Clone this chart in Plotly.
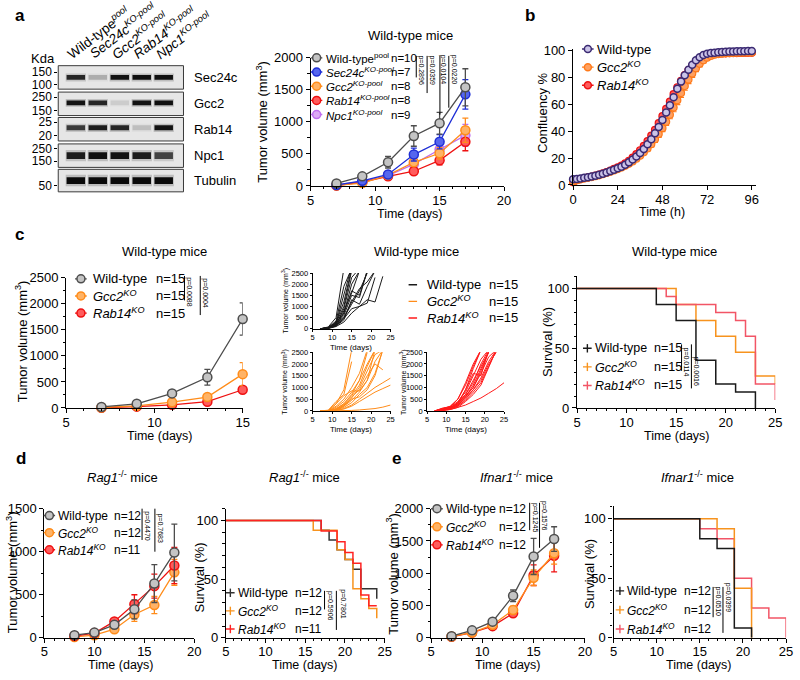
import plotly.graph_objects as go

W, H = 800, 680
FONT = "Arial, Liberation Sans, Helvetica, sans-serif"

# ---------------- panel a : western blot ----------------
LANE_LABELS = ["Wild-type<sup><i>pool</i></sup>",
               "<i>Sec24c<sup>KO-pool</sup></i>",
               "<i>Gcc2<sup>KO-pool</sup></i>",
               "<i>Rab14<sup>KO-pool</sup></i>",
               "<i>Npc1<sup>KO-pool</sup></i>"]
BLOT_PROTEINS = ["Sec24c", "Gcc2", "Rab14", "Npc1", "Tubulin"]
BAND_SEC24C = [0.85, 0.22, 0.95, 0.97, 0.97]
BAND_GCC2 = [0.95, 0.85, 0.10, 0.95, 0.97]
BAND_RAB14 = [0.75, 0.90, 0.85, 0.15, 0.95]
BAND_NPC1 = [0.90, 0.97, 0.97, 0.90, 0.70]
BAND_TUBULIN = [1.0, 1.0, 1.0, 1.0, 1.0]
MW_SEC24C = ["150", "100"]
MW_GCC2 = ["250", "150"]
MW_RAB14 = ["25", "20"]
MW_NPC1 = ["250", "150"]
MW_TUBULIN = ["50"]

# ---------------- panel a : tumour growth ----------------
DAYS_A = [7, 9, 11, 13, 15, 17]
A_NAMES = ["Wild-type<sup>pool</sup>", "<i>Sec24c<sup>KO-pool</sup></i>", "<i>Gcc2<sup>KO-pool</sup></i>",
           "<i>Rab14<sup>KO-pool</sup></i>", "<i>Npc1<sup>KO-pool</sup></i>"]
A_N = ["n=10", "n=7", "n=8", "n=8", "n=9"]
A_WT = [40, 150, 370, 780, 980, 1540]
A_WT_ERR = [15, 30, 90, 160, 170, 290]
A_SEC24C = [15, 80, 180, 490, 690, 1430]
A_SEC24C_ERR = [8, 20, 30, 100, 110, 230]
A_GCC2 = [10, 45, 170, 370, 510, 870]
A_GCC2_ERR = [6, 12, 30, 60, 90, 190]
A_RAB14 = [5, 60, 150, 230, 400, 690]
A_RAB14_ERR = [4, 15, 25, 50, 70, 140]
A_NPC1 = [15, 70, 160, 340, 570, 790]
A_NPC1_ERR = [8, 15, 30, 60, 100, 170]
A_PVALS = ["p=0.2896", "p=0.0359", "p=0.0104", "p=0.0220"]

# ---------------- panel b : confluency ----------------
B_TIME = [0, 2, 4, 6, 8, 10, 12, 14, 16, 18, 20, 22, 24, 26, 28, 30, 32, 34, 36, 38, 40, 42, 44, 46, 48,
          50, 52, 54, 56, 58, 60, 62, 64, 66, 68, 70, 72, 74, 76, 78, 80, 82, 84, 86, 88, 90, 92, 94, 96]
B_NAMES = ["Wild-type", "<i>Gcc2<sup>KO</sup></i>", "<i>Rab14<sup>KO</sup></i>"]
B_WT = [4.2, 4.5, 4.9, 5.3, 5.8, 6.3, 6.9, 7.6, 8.4, 9.3, 10.3, 11.3, 12.4, 13.6, 15.0, 16.8, 18.9, 21.2,
        23.8, 26.8, 30.2, 34.0, 38.4, 43.0, 48.2, 53.8, 59.3, 65.2, 71.5, 76.8, 81.6, 85.7, 89.4, 92.6,
        95.0, 96.6, 97.5, 98.0, 98.3, 98.6, 98.8, 99.0, 99.1, 99.2, 99.3, 99.4, 99.4, 99.5, 99.5]
B_GCC2 = [2.5, 3.5, 4.2, 4.8, 5.3, 5.9, 6.5, 7.2, 8.0, 8.9, 9.8, 10.8, 11.8, 12.9, 14.2, 15.7, 17.5, 19.5,
          21.8, 24.3, 27.2, 30.3, 33.9, 37.8, 42.2, 47.0, 52.2, 57.5, 62.9, 68.3, 73.5, 78.3, 82.8, 86.7,
          90.0, 92.6, 94.6, 95.9, 96.8, 97.3, 97.6, 97.8, 98.0, 98.1, 98.2, 98.3, 98.3, 98.4, 98.4]
B_GCC2_ERR = [0.4, 0.4, 0.4, 0.5, 0.5, 0.5, 0.5, 0.6, 0.6, 0.6, 0.7, 0.7, 0.8, 0.8, 0.9, 1.0, 1.1, 1.2,
              1.4, 1.6, 1.8, 2.0, 2.2, 2.4, 2.6, 2.8, 3.0, 3.1, 3.2, 3.2, 3.1, 3.0, 2.8, 2.5, 2.2, 1.9,
              1.6, 1.3, 1.1, 0.9, 0.8, 0.7, 0.6, 0.6, 0.5, 0.5, 0.5, 0.5, 0.5]
B_RAB14 = [2.0, 3.6, 4.3, 5.0, 5.6, 6.2, 6.9, 7.7, 8.6, 9.6, 10.7, 11.9, 13.1, 14.4, 16.0, 18.0, 20.3, 22.9,
           25.8, 29.0, 32.6, 36.6, 41.0, 45.9, 51.1, 56.5, 62.0, 67.5, 72.6, 77.4, 81.7, 85.4, 88.6, 91.3,
           93.4, 95.0, 96.1, 96.8, 97.2, 97.5, 97.7, 97.8, 97.9, 98.0, 98.0, 98.1, 98.1, 98.2, 98.2]
B_RAB14_ERR = [0.5, 0.5, 0.5, 0.5, 0.5, 0.6, 0.6, 0.6, 0.7, 0.7, 0.8, 0.8, 0.9, 1.0, 1.1, 1.2, 1.3, 1.4,
               1.5, 1.6, 1.7, 1.8, 1.9, 2.0, 2.0, 2.0, 2.0, 1.9, 1.8, 1.7, 1.5, 1.4, 1.2, 1.1, 1.0, 0.9,
               0.8, 0.7, 0.6, 0.6, 0.5, 0.5, 0.5, 0.5, 0.5, 0.5, 0.5, 0.5, 0.5]

# ---------------- panel c ----------------
KO_NAMES = ["Wild-type", "<i>Gcc2<sup>KO</sup></i>", "<i>Rab14<sup>KO</sup></i>"]
C_N = ["n=15", "n=15", "n=15"]
DAYS_C = [7, 9, 11, 13, 15]
C_WT = [20, 80, 280, 590, 1710]
C_WT_ERR = [10, 20, 60, 150, 310]
C_GCC2 = [10, 40, 110, 210, 650]
C_GCC2_ERR = [5, 10, 30, 50, 220]
C_RAB14 = [5, 25, 60, 120, 350]
C_RAB14_ERR = [3, 8, 15, 30, 40]
C_PVALS = ["p=0.0088", "p=0.0004"]

DAYS_IND = [7, 9, 11, 13, 15, 17, 19, 21, 23, 25]
C_WT_IND = [
    [0, 80, 500, 2700], [0, 50, 350, 1900, 2700], [0, 40, 250, 1500, 2800], [0, 60, 300, 1200, 2700],
    [0, 30, 200, 900, 2300, 2700], [0, 20, 150, 700, 2000, 2600], [0, 30, 220, 800, 1600, 2600],
    [0, 20, 180, 600, 1500, 1400, 2600], [0, 40, 160, 500, 1100, 1700, 2500],
    [0, 10, 120, 400, 1300, 1100, 1900, 2600], [0, 20, 150, 450, 900, 1000, 1150, 2300],
    [0, 50, 250, 700, 1700, 1500, 2600], [0, 10, 100, 300, 700, 1000, 1300, 1200, 2350],
    [0, 30, 280, 1000, 2600], [0, 20, 140, 500, 1200, 1800, 2100, 2600]]
C_GCC2_IND = [
    [0, 20, 300, 900, 2600], [0, 30, 400, 700, 2100], [0, 10, 200, 500, 1000, 1600, 2600],
    [0, 10, 150, 400, 800, 1300, 2500], [0, 10, 100, 300, 650, 1100, 1900, 2600],
    [0, 0, 60, 250, 600, 900, 1500, 2000, 1750], [0, 0, 50, 200, 450, 800, 1300, 2100, 2600],
    [0, 0, 40, 150, 350, 700, 1000, 1600, 2600], [0, 0, 30, 100, 250, 500, 750, 1000, 1200, 1400],
    [0, 0, 20, 80, 200, 400, 600, 800, 950, 1100], [0, 0, 0, 10, 20, 40, 60, 100, 160, 250],
    [0, 10, 300, 650, 850, 850, 1300, 2600], [0, 0, 80, 300, 700, 1300, 2000, 2600],
    [0, 0, 30, 200, 550, 1000, 1700, 2400, 2600], [0, 0, 50, 250, 500, 600, 900, 1500, 2600]]
C_RAB14_IND = [
    [0, 100, 150, 300, 900, 1800, 2600], [0, 80, 200, 500, 1100, 1900, 2600],
    [0, 120, 180, 400, 800, 1500, 2200, 2600], [0, 60, 150, 300, 700, 1200, 2000, 2600],
    [0, 50, 100, 250, 600, 1000, 1700, 2500], [0, 40, 120, 350, 900, 1600, 1500, 2600],
    [0, 30, 80, 200, 500, 900, 1400, 2100, 2600], [0, 20, 100, 250, 600, 1100, 1800, 2500],
    [0, 10, 60, 150, 400, 700, 1100, 1800, 2600], [0, 50, 150, 350, 700, 1300, 1900, 2500],
    [0, 30, 90, 200, 450, 800, 1200, 1900, 2600], [0, 20, 60, 150, 250, 400, 550, 750, 950, 1200],
    [0, 80, 180, 500, 1200, 2000, 2600], [0, 40, 120, 300, 650, 1000, 1600, 2300, 2600],
    [0, 20, 100, 250, 550, 900, 1300, 2000, 2500]]

C_SURV_WT_T = [0, 13, 15, 17, 19, 21, 23]
C_SURV_WT = [100, 86.7, 73.3, 40, 20, 13.3, 0]
C_SURV_GCC2_T = [0, 15, 17, 19, 21, 23, 25]
C_SURV_GCC2 = [100, 86.7, 73.3, 60, 46.7, 26.7, 20]
C_SURV_RAB14_T = [0, 14, 15, 19, 21, 22, 23, 25]
C_SURV_RAB14 = [100, 93.3, 86.7, 80, 73.3, 60, 20, 6.7]
C_SURV_PVALS = ["p=0.0114", "p=0.0016"]

# ---------------- panel d ----------------
D_N = ["n=12", "n=12", "n=11"]
DAYS_D = [8, 10, 12, 14, 16, 18]
D_WT = [30, 60, 150, 330, 630, 990]
D_WT_ERR = [10, 10, 40, 110, 220, 330]
D_GCC2 = [10, 30, 100, 270, 380, 760]
D_GCC2_ERR = [5, 10, 25, 80, 100, 150]
D_RAB14 = [20, 55, 190, 390, 600, 840]
D_RAB14_ERR = [8, 10, 25, 110, 140, 210]
D_PVALS = ["p=0.4470", "p=0.7683"]
D_SURV_WT_T = [0, 17, 18, 19, 20, 21, 22, 24]
D_SURV_WT = [100, 91.7, 83.3, 75, 66.7, 58.3, 41.7, 33.3]
D_SURV_GCC2_T = [0, 16, 19, 20, 21, 22, 23, 24]
D_SURV_GCC2 = [100, 91.7, 75, 66.7, 41.7, 33.3, 25, 16.7]
D_SURV_RAB14_T = [0, 17, 19, 20, 21, 22, 23, 24]
D_SURV_RAB14 = [100, 90.9, 81.8, 72.7, 63.6, 36.4, 27.3, 27.3]
D_SURV_PVALS = ["p=0.5906", "p=0.7801"]

# ---------------- panel e ----------------
E_N = ["n=12", "n=12", "n=12"]
DAYS_E = [7, 9, 11, 13, 15, 17]
E_WT = [25, 115, 250, 650, 1260, 1530]
E_WT_ERR = [10, 20, 30, 90, 280, 190]
E_GCC2 = [20, 80, 200, 430, 930, 1310]
E_GCC2_ERR = [8, 15, 25, 60, 120, 170]
E_RAB14 = [15, 80, 180, 380, 970, 1270]
E_RAB14_ERR = [6, 15, 25, 50, 160, 250]
E_PVALS = ["p=0.1245", "p=0.1576"]
E_SURV_WT_T = [0, 15, 17, 19, 21]
E_SURV_WT = [100, 83.3, 75, 8.3, 0]
E_SURV_GCC2_T = [0, 17, 19, 21]
E_SURV_GCC2 = [100, 91.7, 41.7, 0]
E_SURV_RAB14_T = [0, 15, 17, 19, 21, 23, 25]
E_SURV_RAB14 = [100, 91.7, 83.3, 50, 25, 16.7, 0]
E_SURV_PVALS = ["p=0.0510", "p=0.0399"]

# ---------------- styles ----------------
GRAY, GRAY_F = "#4d4d4d", "#c4c4c4"
BLUE, BLUE_F = "#1f2fd6", "#5566ee"
ORANGE, ORANGE_F = "#ff8c1a", "#ffb366"
RED, RED_F = "#ee1111", "#ff5c5c"
VIOLET, VIOLET_F = "#bf6fee", "#dcaaf5"
PURPLE, PURPLE_F = "#3b2a72", "#cbc4e8"
KBLACK = "#1a1a1a"
PINK = "#f25566"

fig = go.Figure()
layout = {}
shapes = []
annotations = []
_ax = [0]

HIDDEN = dict(visible=False, showgrid=False, zeroline=False, fixedrange=True)


def new_axes(xpx, ypx, xr, yr, xkw=None, ykw=None):
    _ax[0] += 1
    i = _ax[0]
    s = "" if i == 1 else str(i)
    xa = dict(HIDDEN)
    xa.update(domain=[xpx[0] / W, xpx[1] / W], range=xr, anchor="y" + s)
    ya = dict(HIDDEN)
    ya.update(domain=[1 - ypx[1] / H, 1 - ypx[0] / H], range=yr, anchor="x" + s)
    if xkw:
        xa.update(xkw)
    if ykw:
        ya.update(ykw)
    layout["xaxis" + s] = xa
    layout["yaxis" + s] = ya
    return "x" + s, "y" + s


def chart_axes(xpx, ypx, xr, yr, xdt, ydt, xminor=None, yminor=None, fs=13, tl=4, lw=1.2, xstand=-2):
    common = dict(visible=True, showline=True, linecolor="black", linewidth=lw, ticks="outside",
                  ticklen=tl, tickwidth=lw, tickcolor="black",
                  tickfont=dict(size=fs, color="black", family=FONT),
                  showgrid=False, zeroline=False, fixedrange=True, tickmode="linear", tick0=0)
    xkw = dict(common, dtick=xdt, ticklabelstandoff=xstand)
    ykw = dict(common, dtick=ydt)
    if xminor:
        xkw["minor"] = dict(ticks="outside", ticklen=tl * 0.6, tickwidth=1, tickcolor="black",
                            dtick=xminor, tick0=0, showgrid=False)
    if yminor:
        ykw["minor"] = dict(ticks="outside", ticklen=tl * 0.6, tickwidth=1, tickcolor="black",
                            dtick=yminor, tick0=0, showgrid=False)
    return new_axes(xpx, ypx, xr, yr, xkw, ykw)


def text(t, x, y, size=13, xanchor="center", yanchor="middle", angle=0, xref="paper", yref="paper",
         xshift=0, yshift=0):
    if xref == "paper":
        x = x / W
    if yref == "paper":
        y = 1 - y / H
    annotations.append(dict(text=t, x=x, y=y, xref=xref, yref=yref, showarrow=False, xanchor=xanchor,
                            yanchor=yanchor, textangle=angle, xshift=xshift, yshift=yshift,
                            font=dict(size=size, color="black", family=FONT)))


def vline(x, y0, y1, w=1):
    shapes.append(dict(type="line", xref="paper", yref="paper", x0=x / W, x1=x / W,
                       y0=1 - y0 / H, y1=1 - y1 / H, line=dict(color="black", width=w)))


def brackets(pvals, geo):
    for p, (lx, y0, y1, tx, ty) in zip(pvals, geo):
        vline(lx, y0, y1)
        text(p, tx, ty, size=7, angle=90)


def legend(sym_px, rows_px, kind, names, colors, fills=None, n_labels=None, n_x=None, gap=2, msize=8,
           size=13):
    nrow = len(names)
    sp = (rows_px[1] - rows_px[0]) / (nrow - 1)
    xa, ya = new_axes(sym_px, (rows_px[0] - sp / 2, rows_px[1] + sp / 2), [0, 1], [nrow - 0.5, -0.5])
    for i, (nm, c) in enumerate(zip(names, colors)):
        fig.add_trace(go.Scatter(x=[0, 1], y=[i, i], mode="lines", line=dict(color=c, width=1.4),
                                 xaxis=xa, yaxis=ya, cliponaxis=False))
        if kind == "lm":
            fig.add_trace(go.Scatter(x=[0.5], y=[i], mode="markers", cliponaxis=False,
                                     marker=dict(size=msize, color=fills[i], line=dict(color=c, width=1.5)),
                                     xaxis=xa, yaxis=ya))
        elif kind == "km":
            fig.add_trace(go.Scatter(x=[0.5], y=[i], mode="markers", cliponaxis=False,
                                     marker=dict(symbol="line-ns", size=6, line=dict(color=c, width=1.4)),
                                     xaxis=xa, yaxis=ya))
        text(nm, 1, i, xref=xa, yref=ya, xanchor="left", xshift=gap, size=size)
        if n_labels:
            text(n_labels[i], n_x, i, yref=ya, xanchor="left", size=size)


def growth(xa, ya, days, vals, errs, edge, fill, msize=9):
    fig.add_trace(go.Scatter(x=days, y=vals, mode="lines+markers", cliponaxis=False,
                             line=dict(color=edge, width=1.3),
                             marker=dict(size=msize, color=fill, line=dict(color=edge, width=1.5)),
                             error_y=dict(type="data", array=errs, visible=True, color=edge,
                                          thickness=1.3, width=3),
                             xaxis=xa, yaxis=ya))


def survival(xa, ya, t, s, color):
    fig.add_trace(go.Scatter(x=t, y=s, mode="lines", line=dict(shape="hv", color=color, width=1.5),
                             xaxis=xa, yaxis=ya))


# ======================= panel a : blot =======================
STRIPS = [(60, 84), (87, 111), (113, 137), (140, 164), (166, 189)]
MW_POS = [[0.73, 0.2], [0.78, 0.22], [0.8, 0.24], [0.8, 0.26], [0.28]]
BAND_CENTER = [0.5, 0.54, 0.56, 0.5, 0.5]
BAND_THICK = [0.2, 0.2, 0.21, 0.28, 0.3]
bands = [BAND_SEC24C, BAND_GCC2, BAND_RAB14, BAND_NPC1, BAND_TUBULIN]
mws = [MW_SEC24C, MW_GCC2, MW_RAB14, MW_NPC1, MW_TUBULIN]
lane_idx = list(range(len(LANE_LABELS)))
first_blot_x = None
for k, ((top, bot), inten, mw) in enumerate(zip(STRIPS, bands, mws)):
    ykw = dict(visible=True, showline=False, ticks="outside", ticklen=3, tickwidth=1, tickcolor="black",
               tickmode="array", tickvals=MW_POS[k], ticktext=mw, showticklabels=True,
               tickfont=dict(size=12, color="black", family=FONT))
    xa, ya = new_axes((55, 182), (top, bot), [-0.8, 4.9], [0, 1], None, ykw)
    if first_blot_x is None:
        first_blot_x = xa
    shapes.append(dict(type="rect", xref=xa + " domain", yref=ya + " domain", x0=0, x1=1, y0=0, y1=1,
                       fillcolor="#e6e6e6", line=dict(color="#3a3a3a", width=1), layer="below"))
    th, cy = BAND_THICK[k], BAND_CENTER[k]
    fig.add_trace(go.Bar(x=lane_idx, y=[th * 1.7] * 5, base=[cy - th * 0.85] * 5, width=0.92,
                         marker=dict(color=[f"rgba(40,40,40,{0.22 * a:.2f})" for a in inten],
                                     line=dict(width=0)), xaxis=xa, yaxis=ya))
    fig.add_trace(go.Bar(x=lane_idx, y=[th] * 5, base=[cy - th / 2] * 5, width=0.84,
                         marker=dict(color=[f"rgba(10,10,10,{a:.2f})" for a in inten],
                                     line=dict(width=0)), xaxis=xa, yaxis=ya))
    text(BLOT_PROTEINS[k], 191, (top + bot) / 2, xanchor="left")

for j, lab in enumerate(LANE_LABELS):
    text(lab, j, 59, xref=first_blot_x, xanchor="left", yanchor="bottom", angle=-37, xshift=-15,
         size=13.5)
text("Kda", 54, 53, xanchor="right")
text("<b>a</b>", 16, 9, size=17)

# ======================= panel a : growth =======================
xa, ya = chart_axes((311, 507), (52, 183), [5, 20], [0, 2000], 5, 500, xminor=1, yminor=250)
for vals, errs, c, f in [(A_NPC1, A_NPC1_ERR, VIOLET, VIOLET_F), (A_RAB14, A_RAB14_ERR, RED, RED_F),
                         (A_GCC2, A_GCC2_ERR, ORANGE, ORANGE_F), (A_SEC24C, A_SEC24C_ERR, BLUE, BLUE_F),
                         (A_WT, A_WT_ERR, GRAY, GRAY_F)]:
    growth(xa, ya, DAYS_A, vals, errs, c, f)
legend((311, 323), (52, 110), "lm", A_NAMES, [GRAY, BLUE, ORANGE, RED, VIOLET],
       [GRAY_F, BLUE_F, ORANGE_F, RED_F, VIOLET_F], A_N, 390, gap=1, size=11.5)
brackets(A_PVALS, [(418, 50, 72, 423, 64), (429, 50, 88, 434, 64), (442, 50, 110, 446, 64),
                   (451, 50, 103, 457, 64)])
text("Wild-type mice", 412, 29)
text("Tumor volume (mm<sup>3</sup>)", 262, 117, angle=-90)
text("Time (days)", 412, 212, size=12.5)

# ======================= panel b =======================
xa, ya = chart_axes((577, 762), (43, 182), [0, 98], [0, 101], 24, 20)
fig.add_trace(go.Scatter(x=B_TIME, y=B_RAB14, mode="markers", cliponaxis=False,
                         marker=dict(size=7, color=RED_F, line=dict(color=RED, width=1.2)),
                         error_y=dict(type="data", array=B_RAB14_ERR, color=RED, thickness=1, width=2),
                         xaxis=xa, yaxis=ya))
fig.add_trace(go.Scatter(x=B_TIME, y=B_GCC2, mode="markers", cliponaxis=False,
                         marker=dict(size=7, color="#ffa060", line=dict(color="#ff7a1a", width=1.2)),
                         error_y=dict(type="data", array=B_GCC2_ERR, color="#ff7a1a", thickness=1.2, width=3),
                         xaxis=xa, yaxis=ya))
fig.add_trace(go.Scatter(x=B_TIME, y=B_WT, mode="markers", cliponaxis=False,
                         marker=dict(size=7, color=PURPLE_F, line=dict(color=PURPLE, width=1.5)),
                         xaxis=xa, yaxis=ya))
legend((586, 598), (43, 80), "lm", B_NAMES, [PURPLE, "#ff7a1a", RED], [PURPLE_F, "#ffa060", RED_F],
       gap=1, msize=7)
text("<b>b</b>", 533, 9, size=17)
text("Confluency %", 546, 108, angle=-90)
text("Time (h)", 667, 210, size=12.5)

# ======================= panel c left =======================
xa, ya = chart_axes((63, 242), (277, 410), [5, 15], [0, 2500], 5, 500, xminor=1, yminor=250)
growth(xa, ya, DAYS_C, C_RAB14, C_RAB14_ERR, RED, RED_F)
growth(xa, ya, DAYS_C, C_GCC2, C_GCC2_ERR, ORANGE, ORANGE_F)
growth(xa, ya, DAYS_C, C_WT, C_WT_ERR, GRAY, GRAY_F)
legend((72, 84), (278, 313), "lm", KO_NAMES, [GRAY, ORANGE, RED], [GRAY_F, ORANGE_F, RED_F], C_N, 152, gap=4)
brackets(C_PVALS, [(183, 275, 300, 188, 291), (199, 275, 315, 204, 292)])
text("<b>c</b>", 16, 233, size=17)
text("Wild-type mice", 163, 250)
text("Tumor volume (mm<sup>3</sup>)", 18, 342, angle=-90)
text("Time (days)", 158, 439, size=12.5)

# ======================= panel c middle (individual mice) =======================
small = [((313, 392), (272, 329), C_WT_IND, KBLACK, (285, 300), (352, 348)),
         ((313, 392), (353, 413), C_GCC2_IND, ORANGE, (285, 383), (352, 432)),
         ((429, 507), (353, 413), C_RAB14_IND, "#ff1a1a", (405, 383), (468, 432))]
for xpx, ypx, mice, col, ytp, xtp in small:
    xa, ya = chart_axes(xpx, ypx, [5, 25], [0, 2500], 5, 500, fs=7.5, tl=2, lw=1, xstand=-1)
    for m in mice:
        fig.add_trace(go.Scatter(x=DAYS_IND[:len(m)], y=m, mode="lines", line=dict(color=col, width=1),
                                 xaxis=xa, yaxis=ya))
    text("Tumor volume (mm<sup>3</sup>)", ytp[0], ytp[1], size=7, angle=-90)
    text("Time (days)", xtp[0], xtp[1], size=8)
legend((410, 419), (284, 318), "line", KO_NAMES, [KBLACK, ORANGE, "#ff1a1a"], n_labels=C_N, n_x=490, gap=8)
text("Wild-type mice", 418, 250)

# ======================= panel c right (survival) =======================
xa, ya = chart_axes((581, 782), (275, 410), [5, 25], [0, 110.6], 5, 50, xminor=1, yminor=10)
survival(xa, ya, C_SURV_GCC2_T, C_SURV_GCC2, "#f7931e")
survival(xa, ya, C_SURV_RAB14_T, C_SURV_RAB14, PINK)
survival(xa, ya, C_SURV_WT_T, C_SURV_WT, KBLACK)
legend((587, 596), (349, 387), "km", KO_NAMES, [KBLACK, "#f7931e", PINK], n_labels=C_N, n_x=657, gap=1,
       size=12.5)
brackets(C_SURV_PVALS, [(687, 345, 372, 692, 363), (697, 345, 390, 702, 372)])
text("Wild-type mice", 680, 250)
text("Survival (%)", 551, 342, angle=-90)
text("Time (days)", 682, 439, size=12.5)

# ======================= panel d =======================
RAG = "<i>Rag1</i><sup>-/-</sup> mice"
xa, ya = chart_axes((41, 193), (513, 645), [5, 20], [0, 1500], 5, 500, xminor=1, yminor=250)
growth(xa, ya, DAYS_D, D_GCC2, D_GCC2_ERR, ORANGE, ORANGE_F)
growth(xa, ya, DAYS_D, D_RAB14, D_RAB14_ERR, RED, RED_F)
growth(xa, ya, DAYS_D, D_WT, D_WT_ERR, GRAY, GRAY_F)
legend((40, 52), (520, 555), "lm", KO_NAMES, [GRAY, ORANGE, RED], [GRAY_F, ORANGE_F, RED_F], D_N, 109,
       gap=1, size=12)
brackets(D_PVALS, [(140, 513, 545, 145, 530), (153, 513, 557, 158, 533)])
text("<b>d</b>", 17, 462, size=17)
text(RAG, 120, 481)
text("Tumor volume (mm<sup>3</sup>)", 8, 578, angle=-90)
text("Time (days)", 119, 673, size=12.5)

xa, ya = chart_axes((225, 386), (513, 645), [5, 25], [0, 110], 5, 50, xminor=1, yminor=10)
survival(xa, ya, D_SURV_WT_T, D_SURV_WT, "#333333")
survival(xa, ya, D_SURV_GCC2_T, D_SURV_GCC2, "#f7931e")
survival(xa, ya, D_SURV_RAB14_T, D_SURV_RAB14, "#ff2222")
legend((225, 234), (599, 636), "km", KO_NAMES, ["#333333", "#f7931e", "#ff2222"], n_labels=D_N, n_x=293,
       gap=1, size=12)
brackets(D_SURV_PVALS, [(325, 597, 616, 331, 612), (337, 597, 637, 344, 610)])
text(RAG, 305, 481)
text("Survival (%)", 198, 583, angle=-90)
text("Time (days)", 305, 673, size=12.5)

# ======================= panel e =======================
IFN = "<i>Ifnar1</i><sup>-/-</sup> mice"
xa, ya = chart_axes((433, 589), (513, 645), [5, 20], [0, 2000], 5, 500, xminor=1, yminor=250)
growth(xa, ya, DAYS_E, E_RAB14, E_RAB14_ERR, RED, RED_F)
growth(xa, ya, DAYS_E, E_GCC2, E_GCC2_ERR, ORANGE, ORANGE_F)
growth(xa, ya, DAYS_E, E_WT, E_WT_ERR, GRAY, GRAY_F)
legend((433, 445), (513, 550), "lm", KO_NAMES, [GRAY, ORANGE, RED], [GRAY_F, ORANGE_F, RED_F], E_N, 500,
       gap=1, size=12)
brackets(E_PVALS, [(533, 507, 535, 538, 522), (543, 507, 553, 548, 520)])
text("<b>e</b>", 398, 462, size=17)
text(IFN, 520, 481)
text("Tumor volume (mm<sup>3</sup>)", 394, 580, angle=-90)
text("Time (days)", 511, 673, size=12.5)

xa, ya = chart_axes((618, 793), (510, 645), [5, 25], [0, 111], 5, 50, xminor=1, yminor=10)
survival(xa, ya, E_SURV_RAB14_T, E_SURV_RAB14, PINK)
survival(xa, ya, E_SURV_GCC2_T, E_SURV_GCC2, "#f7931e")
survival(xa, ya, E_SURV_WT_T, E_SURV_WT, KBLACK)
legend((620, 629), (597, 636), "km", KO_NAMES, [KBLACK, "#f7931e", PINK], n_labels=E_N, n_x=687, gap=1,
       size=12)
brackets(E_SURV_PVALS, [(719, 593, 624, 724, 607), (729, 593, 640, 734, 604)])
text(IFN, 703, 481)
text("Survival (%)", 593, 580, angle=-90)
text("Time (days)", 705, 673, size=12.5)

fig.update_layout(width=W, height=H, margin=dict(l=0, r=0, t=0, b=0), paper_bgcolor="white",
                  plot_bgcolor="rgba(0,0,0,0)", showlegend=False, hovermode=False, barmode="overlay",
                  font=dict(family=FONT, color="black"), shapes=shapes, annotations=annotations)
fig.update_layout(layout)
fig.write_html("out.html", config={"displayModeBar": False},
               post_script="document.body.style.margin='0px';document.body.style.padding='0px';"
                           "document.body.style.overflow='hidden';")
